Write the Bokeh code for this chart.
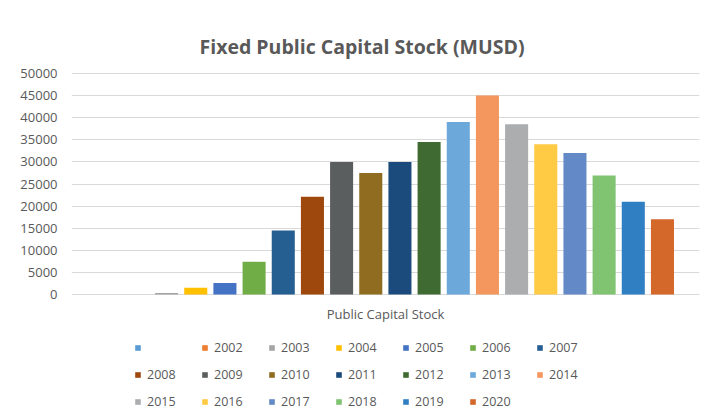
from bokeh.plotting import figure
from bokeh.models import Range1d, FixedTicker, Legend, LegendItem, Label
from bokeh.embed import file_html
from bokeh.resources import INLINE

# ---- data ----
series = ["", "2002", "2003", "2004", "2005", "2006", "2007", "2008", "2009", "2010",
          "2011", "2012", "2013", "2014", "2015", "2016", "2017", "2018", "2019", "2020"]
values = [0, 0, 350, 1500, 2600, 7400, 14500, 22100, 30000, 27500,
          30000, 34500, 39000, 45000, 38500, 34000, 32000, 26900, 21000, 17000]
colors = ["#5B9BD5", "#ED7D31", "#A5A5A5", "#FFC000", "#4472C4", "#70AD47", "#255E91",
          "#9E480E", "#5B5E5F", "#8F6C20", "#1B4A7C", "#3F6A31", "#6CA8DA", "#F4975E",
          "#ABADAE", "#FFCB44", "#638AC6", "#80C472", "#2F7FC2", "#D4672A"]
y_ticks = [0, 5000, 10000, 15000, 20000, 25000, 30000, 35000, 40000, 45000, 50000]
title_text = "Fixed Public Capital Stock (MUSD)"
x_label = "Public Capital Stock"

TXT = "#595959"
FONT = "Open Sans"

W, H = 705, 416
LEFT, RIGHT = 71, 699                  # pixel columns of the plot area
TOP_Y, ZERO_Y = 73, 294                # pixel rows of 50000 and 0
y_max = 50000
ppu = (ZERO_Y - TOP_Y) / y_max         # pixels per unit
y_hi = y_max + TOP_Y / ppu             # frame spans the whole height (title + legend inside)
y_lo = -(H - ZERO_Y) / ppu
x_lo, x_hi = -1.26, 20.27
xppu = (RIGHT - LEFT) / (x_hi - x_lo)

p = figure(width=W, height=H, output_backend="svg", toolbar_location=None,
           x_range=Range1d(x_lo, x_hi), y_range=Range1d(y_lo, y_hi),
           x_axis_location=None, title_location=None,
           min_border_left=LEFT, min_border_right=W - RIGHT, min_border_top=0, min_border_bottom=0,
           background_fill_color="white", border_fill_color="white")
p.outline_line_color = None

items = []
for i, (s, v, c) in enumerate(zip(series, values, colors)):
    r = p.vbar(x=[i], top=[v], bottom=0, width=0.79, fill_color=c, line_color=None)
    items.append(LegendItem(label=s, renderers=[r]))

# grid
p.xgrid.grid_line_color = None
p.ygrid.grid_line_color = "#d9d9d9"
p.ygrid.grid_line_width = 1
p.ygrid.ticker = FixedTicker(ticks=y_ticks)

# y axis
p.yaxis.ticker = FixedTicker(ticks=y_ticks)
p.yaxis.axis_line_color = None
p.yaxis.major_tick_line_color = None
p.yaxis.minor_tick_line_color = None
p.yaxis.major_tick_out = 0
p.yaxis.major_tick_in = 0
p.yaxis.major_label_standoff = 14
p.yaxis.major_label_text_font = FONT
p.yaxis.major_label_text_font_size = "13px"
p.yaxis.major_label_text_color = TXT

# category axis title
p.add_layout(Label(x=(x_lo + x_hi) / 2, y=-19 / ppu, text=x_label,
                   text_align="center", text_baseline="middle", text_font=FONT,
                   text_font_size="13px", text_color=TXT))

# chart title
p.add_layout(Label(x=x_lo + (361.5 - LEFT) / xppu, y=y_max + (TOP_Y - 45.5) / ppu,
                   text=title_text, text_align="center", text_baseline="alphabetic",
                   text_font=FONT, text_font_style="bold", text_font_size="19.5px",
                   text_color=TXT))

# legend
legend = Legend(items=items, ncols=7, orientation="horizontal", location=(63, 5),
                glyph_width=7, glyph_height=7, label_standoff=6, label_width=47,
                label_height=20, spacing=7, padding=0, margin=0,
                border_line_color=None, background_fill_alpha=0,
                label_text_font=FONT, label_text_font_size="12.5px", label_text_color=TXT)
p.add_layout(legend, "center")

open("out.html", "w").write(file_html(p, INLINE))
